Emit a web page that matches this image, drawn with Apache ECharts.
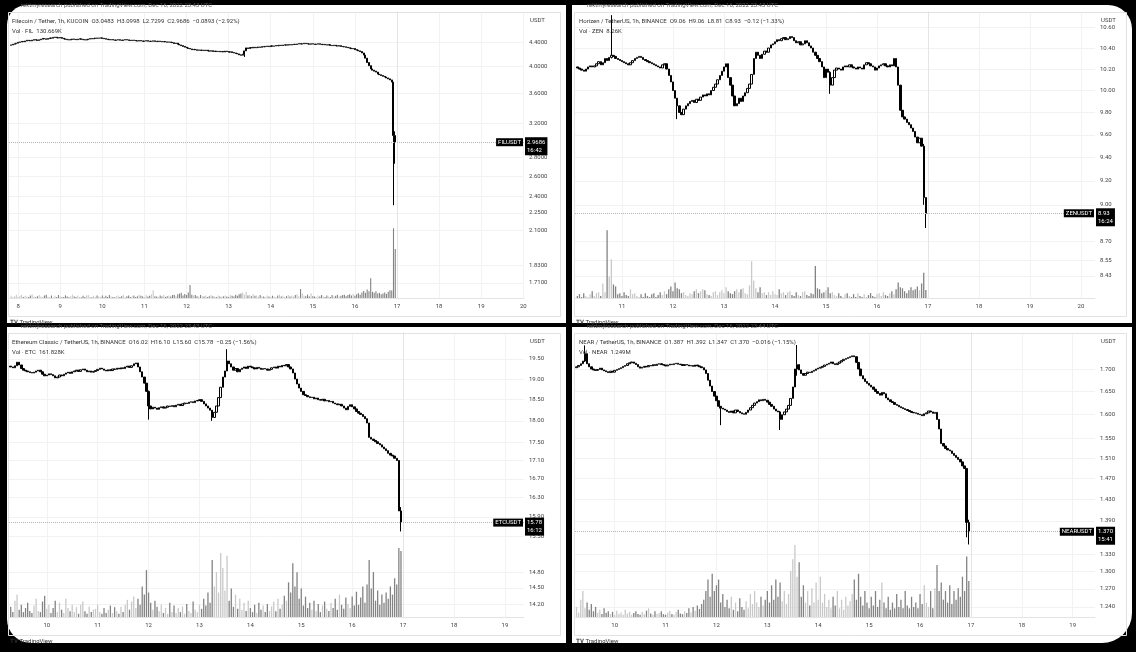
<!DOCTYPE html>
<html>
<head>
<meta charset="utf-8">
<script src="https://cdn.jsdelivr.net/npm/echarts@6/dist/echarts.min.js"></script>
<style>
html, body { margin: 0; padding: 0; background: #000; }
.pane { position: absolute; background: #fff; }
#main { position: absolute; left: 0; top: 0; width: 1136px; height: 652px; }
</style>
</head>
<body>
<div class="pane" style="left:7px;top:5px;width:559px;height:318px;border-top-left-radius:20px"></div>
<div class="pane" style="left:572px;top:5px;width:560px;height:318px;border-top-right-radius:24px"></div>
<div class="pane" style="left:7px;top:327px;width:559px;height:316px;border-bottom-left-radius:24px"></div>
<div class="pane" style="left:572px;top:327px;width:560px;height:316px;border-bottom-right-radius:30px"></div>
<div id="main"></div>
<script>
// hour index: 0 = Dec 17 00:00, last candle = -1 (Dec 16 23:00)

// Filecoin / Tether, 1h, KUCOIN
var filStart = -220
var filOpen0 = 4.345
var filClose = [
  4.350, 4.362, 4.371, 4.380, 4.395, 4.402, 4.410, 4.405, 4.418, 4.430,
  4.425, 4.420, 4.432, 4.441, 4.436, 4.428, 4.439, 4.450, 4.462, 4.455,
  4.448, 4.460, 4.471, 4.466, 4.480, 4.485, 4.474, 4.470, 4.478, 4.465,
  4.455, 4.448, 4.440, 4.436, 4.445, 4.452, 4.447, 4.440, 4.450, 4.456,
  4.448, 4.440, 4.435, 4.442, 4.451, 4.460, 4.455, 4.462, 4.470, 4.466,
  4.468, 4.472, 4.465, 4.458, 4.450, 4.445, 4.438, 4.442, 4.436, 4.430,
  4.435, 4.440, 4.432, 4.428, 4.436, 4.441, 4.437, 4.430, 4.426, 4.432,
  4.428, 4.421, 4.417, 4.425, 4.419, 4.412, 4.418, 4.423, 4.415, 4.410,
  4.414, 4.420, 4.412, 4.408, 4.415, 4.410, 4.404, 4.409, 4.402, 4.398,
  4.400, 4.395, 4.388, 4.375, 4.380, 4.362, 4.350, 4.338, 4.325, 4.312,
  4.300, 4.290, 4.282, 4.270, 4.275, 4.268, 4.260, 4.265, 4.258, 4.262,
  4.255, 4.262, 4.250, 4.245, 4.252, 4.240, 4.246, 4.238, 4.242, 4.235,
  4.240, 4.232, 4.245, 4.238, 4.228, 4.235, 4.222, 4.215, 4.208, 4.200,
  4.185, 4.178, 4.195, 4.250, 4.300, 4.290, 4.305, 4.298, 4.310, 4.302,
  4.308, 4.315, 4.310, 4.322, 4.318, 4.325, 4.330, 4.322, 4.335, 4.328,
  4.332, 4.340, 4.336, 4.345, 4.340, 4.348, 4.352, 4.346, 4.355, 4.350,
  4.356, 4.362, 4.358, 4.366, 4.372, 4.365, 4.370, 4.378, 4.372, 4.368,
  4.362, 4.370, 4.365, 4.358, 4.364, 4.370, 4.362, 4.355, 4.360, 4.352,
  4.348, 4.355, 4.342, 4.338, 4.345, 4.336, 4.330, 4.338, 4.325, 4.320,
  4.318, 4.310, 4.302, 4.295, 4.285, 4.290, 4.270, 4.262, 4.250, 4.238,
  4.215, 4.180, 4.130, 4.060, 4.010, 3.960, 3.940, 3.925, 3.910, 3.880,
  3.870, 3.858, 3.846, 3.835, 3.822, 3.808, 3.792, 3.760, 3.0483, 2.9686
]
var filWicks = [[-87, 4.15, 4.25], [-2, 2.32, 3.76], [-1, 2.7299, 3.0998]]
var filVol = [
  6, 3, 5, 9, 3, 6, 8, 3, 6, 4,
  3, 7, 10, 4, 2, 5, 8, 4, 3, 7,
  9, 4, 3, 7, 2, 6, 3, 8, 4, 2,
  3, 7, 4, 2, 5, 9, 4, 3, 7, 3,
  2, 6, 3, 7, 8, 3, 2, 6, 3, 7,
  5, 3, 7, 2, 6, 3, 8, 4, 3, 2,
  5, 7, 3, 5, 8, 3, 5, 7, 3, 5,
  7, 3, 5, 9, 6, 4, 3, 8, 4, 6,
  10, 21, 5, 4, 3, 7, 4, 8, 3, 5,
  7, 4, 8, 9, 5, 10, 12, 14, 7, 11,
  8, 15, 35, 9, 7, 8, 5, 4, 8, 5,
  4, 7, 3, 5, 8, 5, 4, 3, 7, 4,
  3, 5, 7, 4, 3, 8, 6, 4, 9, 6,
  10, 12, 15, 9, 17, 7, 8, 5, 10, 6,
  7, 4, 8, 5, 4, 3, 7, 4, 3, 6,
  4, 3, 7, 9, 4, 6, 3, 5, 8, 4,
  7, 4, 8, 10, 5, 24, 12, 6, 5, 9,
  4, 13, 5, 4, 3, 7, 4, 8, 4, 3,
  7, 4, 3, 8, 4, 6, 9, 4, 6, 8,
  9, 5, 8, 10, 7, 11, 6, 10, 13, 9,
  15, 19, 14, 23, 18, 53, 17, 14, 18, 12,
  14, 10, 12, 15, 11, 17, 21, 20, 186, 130.669
]
var filTicks = [4.4, 4.0, 3.6, 3.2, 2.8, 2.6, 2.4, 2.25, 2.1, 1.83, 1.71]
var filDays = [8, 9, 10, 11, 12, 13, 14, 15, 16, 17, 18, 19, 20]

// Horizen / TetherUS, 1h, BINANCE
var zenStart = -165
var zenOpen0 = 10.22
var zenClose = [
  10.21, 10.20, 10.19, 10.18, 10.20, 10.22, 10.23, 10.22, 10.23, 10.25,
  10.27, 10.24, 10.26, 10.30, 10.28, 10.31, 10.33, 10.32, 10.30, 10.29,
  10.28, 10.27, 10.26, 10.25, 10.24, 10.26, 10.28, 10.30, 10.31, 10.32,
  10.31, 10.29, 10.28, 10.27, 10.26, 10.25, 10.24, 10.23, 10.22, 10.21,
  10.24, 10.25, 10.20, 10.14, 10.08, 10.00, 9.93, 9.86, 9.80, 9.78,
  9.83, 9.86, 9.88, 9.90, 9.91, 9.89, 9.92, 9.91, 9.94, 9.96,
  9.95, 9.97, 9.96, 10.00, 10.03, 10.06, 10.10, 10.14, 10.18, 10.22,
  10.25, 10.12, 10.05, 9.95, 9.86, 9.88, 9.93, 9.90, 9.95, 9.98,
  10.02, 10.06, 10.15, 10.30, 10.36, 10.33, 10.30, 10.34, 10.37, 10.36,
  10.40, 10.43, 10.44, 10.46, 10.48, 10.47, 10.49, 10.50, 10.48, 10.49,
  10.51, 10.50, 10.47, 10.45, 10.46, 10.43, 10.44, 10.47, 10.45, 10.42,
  10.40, 10.36, 10.33, 10.30, 10.27, 10.22, 10.12, 10.20, 10.17, 10.05,
  10.12, 10.19, 10.21, 10.20, 10.19, 10.22, 10.23, 10.22, 10.24, 10.22,
  10.21, 10.20, 10.22, 10.21, 10.20, 10.24, 10.26, 10.25, 10.23, 10.22,
  10.19, 10.21, 10.23, 10.24, 10.25, 10.23, 10.22, 10.24, 10.23, 10.30,
  10.22, 10.05, 9.82, 9.76, 9.74, 9.71, 9.69, 9.66, 9.63, 9.58,
  9.53, 9.57, 9.50, 9.06, 8.93
]
var zenWicks = [[-149, 10.30, 10.72], [-118, 9.74, 9.90], [-46, 9.97, 10.18], [-2, 9.0, 9.52], [-1, 8.81, 9.06]]
var zenVol = [
  2, 4, 1, 5, 2, 1, 4, 7, 2, 5,
  6, 2, 15, 6, 70, 22, 40, 14, 12, 4,
  5, 2, 6, 3, 2, 9, 4, 5, 2, 1,
  4, 1, 5, 2, 1, 4, 5, 1, 3, 6,
  3, 7, 4, 9, 12, 7, 16, 10, 9, 5,
  6, 3, 2, 5, 4, 7, 9, 5, 7, 9,
  8, 4, 3, 2, 6, 7, 3, 6, 8, 5,
  11, 7, 5, 4, 7, 9, 6, 9, 10, 5,
  4, 13, 38, 18, 10, 6, 11, 5, 6, 3,
  6, 3, 7, 4, 3, 9, 5, 6, 3, 6,
  7, 3, 2, 6, 3, 2, 6, 7, 3, 2,
  5, 4, 33, 10, 9, 5, 6, 8, 11, 5,
  6, 3, 2, 5, 2, 1, 4, 5, 2, 1,
  4, 1, 5, 2, 1, 4, 1, 3, 5, 2,
  1, 4, 5, 2, 6, 3, 2, 5, 7, 4,
  9, 16, 11, 10, 7, 5, 8, 11, 8, 9,
  12, 8, 15, 26, 8.26
]
var zenTicks = [10.6, 10.4, 10.2, 10.0, 9.8, 9.6, 9.4, 9.2, 9.0, 8.7, 8.55, 8.43]
var zenDays = [11, 12, 13, 14, 15, 16, 17, 18, 19, 20]

// Ethereum Classic / TetherUS, 1h, BINANCE
var etcStart = -185
var etcOpen0 = 19.32
var etcClose = [
  19.30, 19.28, 19.33, 19.42, 19.35, 19.26, 19.22, 19.20, 19.18, 19.16,
  19.15, 19.17, 19.20, 19.22, 19.18, 19.12, 19.08, 19.10, 19.13, 19.11,
  19.08, 19.03, 19.05, 19.10, 19.08, 19.12, 19.15, 19.17, 19.14, 19.18,
  19.20, 19.22, 19.19, 19.23, 19.25, 19.22, 19.18, 19.20, 19.17, 19.19,
  19.21, 19.24, 19.27, 19.25, 19.22, 19.20, 19.23, 19.21, 19.25, 19.24,
  19.27, 19.25, 19.28, 19.26, 19.30, 19.32, 19.29, 19.33, 19.38, 19.40,
  19.30, 19.18, 19.05, 18.90, 18.70, 18.35, 18.28, 18.32, 18.30, 18.27,
  18.31, 18.33, 18.30, 18.32, 18.35, 18.34, 18.36, 18.33, 18.37, 18.39,
  18.36, 18.40, 18.42, 18.41, 18.44, 18.45, 18.43, 18.47, 18.48, 18.50,
  18.46, 18.40, 18.35, 18.30, 18.25, 18.08, 18.20, 18.35, 18.55, 18.80,
  19.05, 19.20, 19.45, 19.38, 19.30, 19.22, 19.26, 19.18, 19.24, 19.27,
  19.30, 19.26, 19.32, 19.30, 19.28, 19.25, 19.29, 19.27, 19.24, 19.26,
  19.25, 19.22, 19.24, 19.28, 19.30, 19.27, 19.32, 19.30, 19.34, 19.33,
  19.36, 19.30, 19.25, 19.15, 19.00, 18.88, 18.78, 18.70, 18.62, 18.60,
  18.57, 18.55, 18.56, 18.52, 18.54, 18.50, 18.49, 18.51, 18.47, 18.48,
  18.45, 18.46, 18.42, 18.40, 18.38, 18.39, 18.35, 18.30, 18.26, 18.34,
  18.38, 18.33, 18.28, 18.22, 18.18, 18.15, 18.10, 18.05, 17.95, 17.62,
  17.58, 17.55, 17.52, 17.48, 17.45, 17.40, 17.36, 17.32, 17.26, 17.22,
  17.20, 17.15, 17.10, 16.02, 15.78
]
var etcWicks = [[-120, 18.03, 18.72], [-90, 18.0, 18.25], [-83, 19.2, 19.75], [-1, 15.60, 16.10]]
var etcVol = [
  25, 12, 40, 55, 18, 30, 12, 22, 35, 15,
  10, 28, 45, 15, 12, 38, 52, 20, 30, 10,
  22, 40, 12, 35, 18, 10, 45, 22, 14, 30,
  12, 24, 8, 30, 38, 14, 8, 26, 12, 18,
  20, 30, 12, 8, 22, 10, 18, 28, 10, 24,
  14, 8, 25, 12, 30, 42, 18, 38, 50, 22,
  45, 30, 75, 55, 115, 60, 35, 18, 40, 25,
  14, 30, 10, 22, 8, 35, 12, 28, 10, 22,
  12, 26, 8, 32, 15, 10, 38, 18, 12, 30,
  20, 45, 28, 60, 35, 140, 75, 110, 60, 157,
  120, 65, 150, 40, 70, 25, 55, 20, 45, 18,
  35, 15, 40, 22, 12, 30, 10, 35, 18, 28,
  12, 32, 15, 26, 38, 14, 45, 20, 30, 52,
  40, 85, 60, 132, 75, 110, 45, 70, 28, 50,
  22, 35, 18, 40, 15, 32, 12, 28, 38, 20,
  15, 35, 22, 45, 18, 55, 30, 20, 48, 32,
  22, 50, 28, 62, 30, 48, 75, 35, 80, 140,
  70, 110, 40, 65, 30, 55, 35, 60, 45, 75,
  55, 95, 80, 169, 161.828
]
var etcTicks = [19.5, 19.0, 18.5, 18.0, 17.5, 17.1, 16.7, 16.3, 15.9, 15.5, 14.8, 14.5, 14.2]
var etcDays = [10, 11, 12, 13, 14, 15, 16, 17, 18, 19]

// NEAR / TetherUS, 1h, BINANCE
var nearStart = -186
var nearOpen0 = 1.703
var nearClose = [
  1.705, 1.708, 1.712, 1.718, 1.735, 1.712, 1.705, 1.700, 1.698, 1.697,
  1.699, 1.702, 1.698, 1.696, 1.694, 1.692, 1.695, 1.693, 1.697, 1.699,
  1.701, 1.703, 1.706, 1.708, 1.712, 1.714, 1.716, 1.713, 1.710, 1.705,
  1.702, 1.704, 1.706, 1.705, 1.708, 1.707, 1.710, 1.708, 1.711, 1.712,
  1.710, 1.709, 1.707, 1.709, 1.711, 1.710, 1.712, 1.713, 1.711, 1.710,
  1.708, 1.710, 1.709, 1.707, 1.708, 1.706, 1.709, 1.707, 1.705, 1.703,
  1.698, 1.690, 1.675, 1.662, 1.650, 1.640, 1.630, 1.618, 1.614, 1.612,
  1.610, 1.607, 1.605, 1.608, 1.604, 1.610, 1.607, 1.604, 1.602, 1.601,
  1.605, 1.610, 1.615, 1.620, 1.625, 1.628, 1.632, 1.630, 1.633, 1.631,
  1.627, 1.622, 1.618, 1.612, 1.608, 1.606, 1.590, 1.600, 1.606, 1.612,
  1.620, 1.635, 1.660, 1.700, 1.710, 1.698, 1.690, 1.686, 1.690, 1.693,
  1.692, 1.695, 1.697, 1.700, 1.702, 1.704, 1.706, 1.709, 1.711, 1.713,
  1.716, 1.712, 1.710, 1.713, 1.716, 1.719, 1.722, 1.724, 1.726, 1.728,
  1.730, 1.728, 1.715, 1.700, 1.685, 1.678, 1.672, 1.668, 1.664, 1.660,
  1.655, 1.650, 1.646, 1.642, 1.648, 1.645, 1.636, 1.632, 1.628, 1.626,
  1.622, 1.620, 1.617, 1.615, 1.613, 1.611, 1.609, 1.607, 1.605, 1.604,
  1.603, 1.601, 1.600, 1.598, 1.602, 1.604, 1.608, 1.606, 1.603, 1.605,
  1.590, 1.570, 1.540, 1.535, 1.530, 1.527, 1.525, 1.520, 1.516, 1.512,
  1.508, 1.503, 1.495, 1.490, 1.387, 1.370
]
var nearWicks = [[-182, 1.716, 1.754], [-118, 1.578, 1.618], [-90, 1.568, 1.608], [-82, 1.685, 1.755], [-2, 1.36, 1.49], [-1, 1.347, 1.392]]
var nearVol = [
  0.35, 0.15, 0.6, 0.9, 0.3, 0.5, 0.25, 0.45, 0.2, 0.35,
  0.15, 0.25, 0.1, 0.3, 0.15, 0.2, 0.1, 0.18, 0.08, 0.22,
  0.1, 0.16, 0.08, 0.25, 0.12, 0.18, 0.08, 0.14, 0.2, 0.1,
  0.08, 0.18, 0.1, 0.22, 0.3, 0.12, 0.08, 0.2, 0.1, 0.14,
  0.2, 0.1, 0.08, 0.16, 0.22, 0.1, 0.08, 0.18, 0.25, 0.12,
  0.1, 0.2, 0.14, 0.3, 0.16, 0.35, 0.22, 0.4, 0.28, 0.45,
  0.6, 0.9, 1.3, 0.7, 1.5, 0.9, 1.1, 1.3, 0.5, 0.8,
  0.35, 0.6, 0.3, 0.7, 0.25, 0.5, 0.2, 0.65, 0.35, 0.25,
  0.55, 0.3, 0.8, 0.45, 0.9, 0.5, 0.35, 0.7, 0.4, 0.6,
  0.9, 0.5, 1.1, 0.6, 1.3, 0.7, 1.2, 0.55, 0.9, 0.45,
  0.8, 1.6, 2.0, 2.5, 1.4, 1.9, 0.7, 1.1, 0.5, 0.9,
  0.4, 1.0, 0.5, 1.2, 0.6, 1.4, 0.5, 0.8, 0.35, 0.6,
  0.3, 0.7, 0.4, 0.9, 0.3, 0.6, 0.25, 0.7, 0.4, 0.55,
  0.8, 1.3, 0.6, 1.5, 0.7, 0.4, 0.9, 0.5, 0.3, 0.7,
  0.4, 0.9, 0.35, 0.6, 1.2, 0.5, 0.3, 0.7, 0.25, 0.5,
  0.3, 0.8, 0.35, 0.6, 0.3, 0.9, 0.4, 0.3, 0.7, 0.35,
  0.5, 0.3, 0.8, 0.45, 1.1, 0.5, 0.35, 0.9, 0.3, 1.0,
  1.8, 0.9, 1.2, 0.6, 0.9, 0.5, 1.1, 0.45, 0.9, 0.6,
  1.0, 0.7, 1.4, 0.9, 2.1, 1.249
]
var nearTicks = [1.7, 1.65, 1.6, 1.55, 1.51, 1.47, 1.43, 1.39, 1.33, 1.3, 1.27, 1.24]
var nearDays = [10, 11, 12, 13, 14, 15, 16, 17, 18, 19]

var font = 'Roboto, sans-serif'
var chart = echarts.init(document.getElementById('main'))

// one entry per chart, positions in px of the page
var panels = [
  {
    start: filStart, open0: filOpen0, close: filClose, wicks: filWicks, vol: filVol, ticks: filTicks, days: filDays,
    digits: 4, sym: 'FILUSDT', last: 2.9686, timer: '16:42', volText: '130.669K', volLast: 130.669,
    title: 'Filecoin / Tether, 1h, KUCOIN  O3.0483  H3.0998  L2.7299  C2.9686  \u22120.0893 (\u22122.92%)',
    volTitle: 'Vol \u00b7 FIL  130.669K',
    left: 9, right: 524, top: 12, bottom: 298, xMin: -221.2, xMax: 72.4, yMin: 1.612, yMax: 4.950, volMax: 762.7,
    candleW: 1.5, volW: 1.1, frame: [8, 12, 552, 304], textX: 12
  },
  {
    start: zenStart, open0: zenOpen0, close: zenClose, wicks: zenWicks, vol: zenVol, ticks: zenTicks, days: zenDays,
    digits: 2, sym: 'ZENUSDT', last: 8.93, timer: '16:24', volText: '8.26K', volLast: 8.26,
    title: 'Horizen / TetherUS, 1h, BINANCE  O9.06  H9.06  L8.81  C8.93  \u22120.12 (\u22121.33%)',
    volTitle: 'Vol \u00b7 ZEN  8.26K',
    left: 575, right: 1095, top: 12, bottom: 298, xMin: -166.1, xMax: 78.6, yMin: 8.259, yMax: 10.751, volMax: 295.3,
    candleW: 1.9, volW: 1.3, frame: [574, 12, 552, 304], textX: 579
  },
  {
    start: etcStart, open0: etcOpen0, close: etcClose, wicks: etcWicks, vol: etcVol, ticks: etcTicks, days: etcDays,
    digits: 2, sym: 'ETCUSDT', last: 15.78, timer: '16:12', volText: '161.828K', volLast: 161.828,
    title: 'Ethereum Classic / TetherUS, 1h, BINANCE  O16.02  H16.10  L15.60  C15.78  \u22120.25 (\u22121.56%)',
    volTitle: 'Vol \u00b7 ETC  161.828K',
    left: 9, right: 524, top: 333, bottom: 617, xMin: -185.8, xMax: 57.0, yMin: 13.966, yMax: 20.167, volMax: 696.4,
    candleW: 1.9, volW: 1.3, frame: [8, 333, 552, 302], textX: 12
  },
  {
    start: nearStart, open0: nearOpen0, close: nearClose, wicks: nearWicks, vol: nearVol, ticks: nearTicks, days: nearDays,
    digits: 3, sym: 'NEARUSDT', last: 1.370, timer: '15:41', volText: '1.249M', volLast: 1.249,
    title: 'NEAR / TetherUS, 1h, BINANCE  O1.387  H1.392  L1.347  C1.370  \u22120.016 (\u22121.15%)',
    volTitle: 'Vol \u00b7 NEAR  1.249M',
    left: 575, right: 1095, top: 333, bottom: 617, xMin: -186.7, xMax: 58.5, yMin: 1.2235, yMax: 1.7832, volMax: 9.853,
    candleW: 1.9, volW: 1.3, frame: [574, 333, 552, 302], textX: 579
  }
]

var grids = [], xAxes = [], yAxes = [], series = [], graphics = []

panels.forEach(function (p, i) {
  var cand = [], vols = [], prev = p.open0
  p.close.forEach(function (c, k) {
    var h = p.start + k
    var o = prev
    var lo = Math.min(o, c), hi = Math.max(o, c)
    p.wicks.forEach(function (w) {
      if (w[0] === h) { lo = Math.min(lo, w[1]); hi = Math.max(hi, w[2]) }
    })
    cand.push([h, o, c, lo, hi])
    vols.push({ value: [h, p.vol[k]], itemStyle: { color: c >= o ? '#c9c9c9' : '#838383' } })
    prev = c
  })
  var dayHours = p.days.map(function (d) { return (d - 17) * 24 })

  grids.push({ left: p.left, top: p.top, width: p.right - p.left, height: p.bottom - p.top })
  xAxes.push({
    gridIndex: i, type: 'value', min: p.xMin, max: p.xMax,
    axisLine: { show: true, lineStyle: { color: '#e4e4e4' } },
    axisTick: { show: false, customValues: dayHours },
    axisLabel: {
      customValues: dayHours, fontSize: 6, color: '#444', margin: 5, fontFamily: font,
      formatter: function (v) { return String(17 + Math.round(v / 24)) }
    },
    splitLine: { show: true, lineStyle: { color: '#f2f2f2' } }
  })
  yAxes.push({
    gridIndex: i, type: 'log', logBase: 10, position: 'right', min: p.yMin, max: p.yMax,
    axisLine: { show: true, lineStyle: { color: '#e4e4e4' } },
    axisTick: { show: false, customValues: p.ticks },
    axisLabel: {
      customValues: p.ticks, fontSize: 6, color: '#444', margin: 5, fontFamily: font,
      formatter: function (v) { return v.toFixed(p.digits) }
    },
    splitLine: { show: true, lineStyle: { color: '#f2f2f2' } }
  })
  yAxes.push({ gridIndex: i, type: 'value', min: 0, max: p.volMax, show: false })

  var boxLabel = { color: '#fff', backgroundColor: '#000', fontSize: 6, fontFamily: font, padding: [1, 2] }
  series.push({
    type: 'bar', xAxisIndex: i, yAxisIndex: 2 * i + 1, data: vols, barWidth: p.volW, z: 1,
    markLine: {
      silent: true, symbol: 'none', lineStyle: { opacity: 0 },
      data: [{
        yAxis: p.volLast,
        label: Object.assign({ position: 'end', distance: 1, formatter: p.volText, fontWeight: 'bold' }, boxLabel)
      }]
    }
  })
  series.push({
    type: 'candlestick', xAxisIndex: i, yAxisIndex: 2 * i, data: cand,
    encode: { x: 0, y: [1, 2, 3, 4] }, barWidth: p.candleW, z: 3,
    itemStyle: { color: '#ffffff', color0: '#000000', borderColor: '#000000', borderColor0: '#000000', borderWidth: 1 },
    markLine: {
      silent: true, symbol: 'none',
      lineStyle: { color: '#b5b5b5', type: 'dotted', width: 1 },
      data: [
        {
          yAxis: p.last,
          label: Object.assign({
            position: 'end', distance: 1, offset: [0, 4], lineHeight: 8,
            formatter: p.last.toFixed(p.digits) + '\n' + p.timer
          }, boxLabel)
        },
        {
          yAxis: p.last,
          label: Object.assign({ position: 'insideEnd', distance: 1, formatter: p.sym }, boxLabel)
        }
      ]
    }
  })

  var fr = p.frame
  graphics.push({
    type: 'rect', silent: true, z: 100,
    shape: { x: fr[0] + 0.5, y: fr[1] + 0.5, width: fr[2], height: fr[3] },
    style: { fill: 'none', stroke: '#e2e2e2', lineWidth: 1 }
  })
  graphics.push({
    type: 'text', silent: true, z: 100, x: p.textX, y: p.top + 9,
    style: { text: p.title, fill: '#333', font: '6px ' + font, verticalAlign: 'middle' }
  })
  graphics.push({
    type: 'text', silent: true, z: 100, x: p.textX, y: p.top + 19,
    style: { text: p.volTitle, fill: '#333', font: '6px ' + font, verticalAlign: 'middle' }
  })
  graphics.push({
    type: 'text', silent: true, z: 100, x: p.right + 6, y: p.top + 8,
    style: { text: 'USDT', fill: '#444', font: '6px ' + font, verticalAlign: 'middle' }
  })
  graphics.push({
    type: 'text', silent: true, z: 100, x: fr[0] + 13, y: fr[1] - 7,
    style: { text: 'rektmyresearch published on TradingView.com, Dec 16, 2022 23:4' + (i === 3 ? '4' : '3') + ' UTC', fill: '#555', font: '6px ' + font, verticalAlign: 'middle' }
  })
  graphics.push({
    type: 'text', silent: true, z: 100, x: fr[0] + 2, y: fr[1] + fr[3] + 6,
    style: { text: '\u{1D413}\u{1D415} TradingView', fill: '#333', font: '6px ' + font, verticalAlign: 'middle' }
  })
})

chart.setOption({
  animation: false,
  backgroundColor: 'transparent',
  textStyle: { fontFamily: font },
  grid: grids,
  xAxis: xAxes,
  yAxis: yAxes,
  series: series,
  graphic: { elements: graphics }
})
</script>
</body>
</html>
